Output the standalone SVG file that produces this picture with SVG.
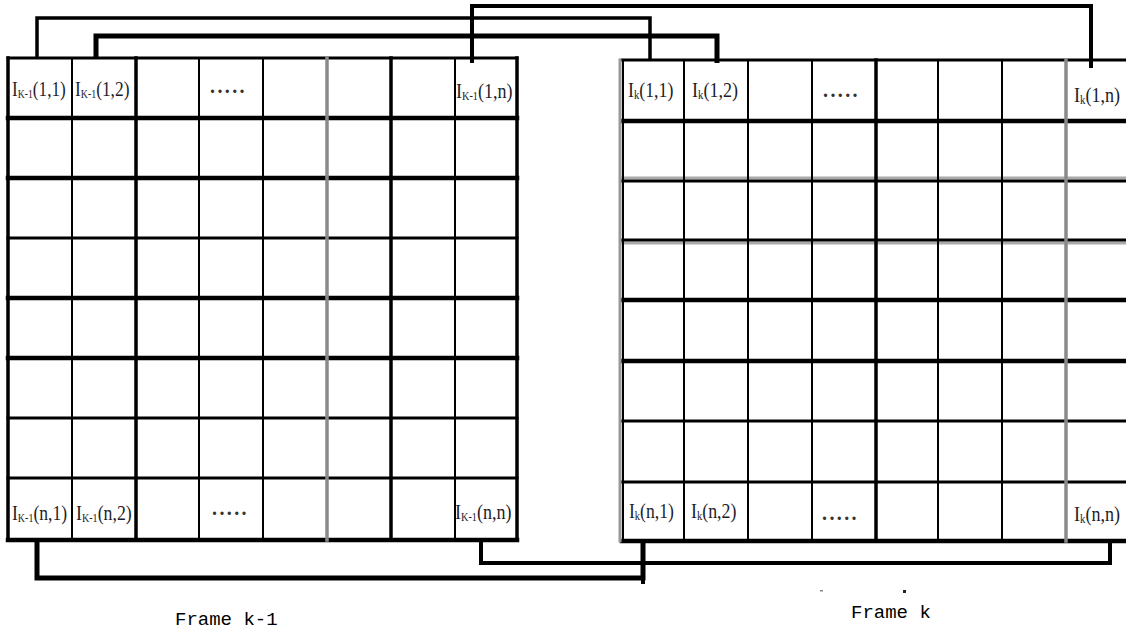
<svg xmlns="http://www.w3.org/2000/svg" width="1126" height="630" viewBox="0 0 1126 630">
<style>
.cellbg{fill:#fff;stroke:none}
.g{stroke:#000;stroke-linecap:square;fill:none}
.h{stroke-width:3}
.hb{stroke-width:4.5}
.v{stroke-width:2}
.vb{stroke-width:3.5}
.gray{stroke:#8a8a8a}
.lbl{font-family:"Liberation Serif","Times New Roman",serif;font-size:22px;fill:#1c1c28}
.lblk{font-family:"Liberation Serif","Times New Roman",serif;font-size:21px;fill:#1c1c28}
.sub{font-size:12.5px}
.dots{font-family:"Liberation Serif",serif;font-weight:bold;font-size:20px;fill:#333;letter-spacing:2.4px}
.conn{stroke:#000;fill:none;stroke-linejoin:miter;stroke-linecap:butt}
.cap{font-family:"Liberation Mono","Courier New",monospace;font-size:19px;fill:#000}
</style>
<rect width="1126" height="630" fill="#fff"/>

<g id="frame-k-1-grid">
<rect class="cellbg" x="8" y="58" width="509" height="482"/>
<g class="g">
<line class="h" x1="8" y1="58" x2="517" y2="58"/>
<line class="hb" x1="8" y1="118" x2="517" y2="118"/>
<line class="hb" x1="8" y1="178" x2="517" y2="178"/>
<line class="h" x1="8" y1="238" x2="517" y2="238"/>
<line class="hb" x1="8" y1="298" x2="517" y2="298"/>
<line class="hb" x1="8" y1="358" x2="517" y2="358"/>
<line class="h" x1="8" y1="418" x2="517" y2="418"/>
<line class="h" x1="8" y1="478" x2="517" y2="478"/>
<line class="hb" x1="8" y1="540" x2="517" y2="540"/>
<line class="vb" x1="8" y1="58" x2="8" y2="540"/>
<line class="v" x1="72" y1="58" x2="72" y2="540"/>
<line class="vb" x1="136" y1="58" x2="136" y2="540"/>
<line class="v" x1="199" y1="58" x2="199" y2="540"/>
<line class="v" x1="263" y1="58" x2="263" y2="540"/>
<line class="vb gray" x1="327" y1="58" x2="327" y2="540"/>
<line class="vb" x1="391" y1="58" x2="391" y2="540"/>
<line class="v" x1="455" y1="58" x2="455" y2="540"/>
<line class="vb" x1="517" y1="58" x2="517" y2="540"/>
</g>
</g>

<g id="frame-k-grid">
<rect class="cellbg" x="622" y="60" width="504" height="481"/>
<g class="g">
<line class="h" x1="622" y1="60" x2="1130" y2="60"/>
<line class="hb" x1="622" y1="121" x2="1130" y2="121"/>
<line stroke="#aaa" stroke-width="3" x1="622" y1="178" x2="1130" y2="178"/>
<line class="h" x1="622" y1="181" x2="1130" y2="181"/>
<line stroke="#aaa" stroke-width="3" x1="622" y1="243" x2="1130" y2="243"/>
<line class="h" x1="622" y1="240" x2="1130" y2="240"/>
<line class="hb" x1="622" y1="300" x2="1130" y2="300"/>
<line class="hb" x1="622" y1="361" x2="1130" y2="361"/>
<line class="h" x1="622" y1="421" x2="1130" y2="421"/>
<line class="h" x1="622" y1="482" x2="1130" y2="482"/>
<line class="hb" x1="622" y1="541" x2="1130" y2="541"/>
<line stroke="#999" stroke-width="3" x1="620" y1="60" x2="620" y2="541"/>
<line class="v" x1="623" y1="60" x2="623" y2="541"/>
<line class="v" x1="684" y1="60" x2="684" y2="541"/>
<line class="v" x1="748" y1="60" x2="748" y2="541"/>
<line class="v" x1="812" y1="60" x2="812" y2="541"/>
<line class="vb" x1="876" y1="60" x2="876" y2="541"/>
<line class="v" x1="938" y1="60" x2="938" y2="541"/>
<line class="v" x1="1002" y1="60" x2="1002" y2="541"/>
<line class="vb gray" x1="1066" y1="60" x2="1066" y2="541"/>
</g>
</g>

<g id="connectors">
<path class="conn" stroke-width="3.5" d="M37,58 V18 H650 V60"/>
<path class="conn" stroke-width="5" d="M96,58 V36 H717 V63"/>
<path class="conn" stroke-width="4" d="M472,63 V6 H1091 V68"/>
<path class="conn" stroke-width="5" d="M37,540 V578 H643 V541"/>
<path class="conn" stroke-width="4" d="M481,540 V563 H1110 V541"/>
<path class="conn" stroke-width="4" d="M643,578 V584"/>
</g>

<g id="cell-km1-1-1"><text class="lbl" transform="translate(12,96) scale(0.78,1)">I<tspan class="sub" dy="2">K-1</tspan><tspan dy="-2">(1,1)</tspan></text></g>
<g id="cell-km1-1-2"><text class="lbl" transform="translate(75,96) scale(0.79,1)">I<tspan class="sub" dy="2">K-1</tspan><tspan dy="-2">(1,2)</tspan></text></g>
<g id="cell-km1-1-dots"><text class="dots" x="210" y="93">.....</text></g>
<g id="cell-km1-1-n"><text class="lbl" transform="translate(456,98) scale(0.82,1)">I<tspan class="sub" dy="2">K-1</tspan><tspan dy="-2">(1,n)</tspan></text></g>

<g id="cell-km1-n-1"><text class="lbl" transform="translate(12,520) scale(0.8,1)">I<tspan class="sub" dy="2">K-1</tspan><tspan dy="-2">(n,1)</tspan></text></g>
<g id="cell-km1-n-2"><text class="lbl" transform="translate(76,520) scale(0.81,1)">I<tspan class="sub" dy="2">K-1</tspan><tspan dy="-2">(n,2)</tspan></text></g>
<g id="cell-km1-n-dots"><text class="dots" x="212" y="515" fill="#555">.....</text></g>
<g id="cell-km1-n-n"><text class="lbl" transform="translate(455,519) scale(0.82,1)">I<tspan class="sub" dy="2">K-1</tspan><tspan dy="-2">(n,n)</tspan></text></g>

<g id="cell-k-1-1"><text class="lblk" transform="translate(628,97) scale(0.85,1)">I<tspan class="sub" dy="2">k</tspan><tspan dy="-2">(1,1)</tspan></text></g>
<g id="cell-k-1-2"><text class="lblk" transform="translate(692,97) scale(0.86,1)">I<tspan class="sub" dy="2">k</tspan><tspan dy="-2">(1,2)</tspan></text></g>
<g id="cell-k-1-dots"><text class="dots" x="823" y="97">.....</text></g>
<g id="cell-k-1-n"><text class="lblk" transform="translate(1074,102) scale(0.86,1)">I<tspan class="sub" dy="2">k</tspan><tspan dy="-2">(1,n)</tspan></text></g>

<g id="cell-k-n-1"><text class="lblk" transform="translate(629,518) scale(0.84,1)">I<tspan class="sub" dy="2">k</tspan><tspan dy="-2">(n,1)</tspan></text></g>
<g id="cell-k-n-2"><text class="lblk" transform="translate(691,518) scale(0.85,1)">I<tspan class="sub" dy="2">k</tspan><tspan dy="-2">(n,2)</tspan></text></g>
<g id="cell-k-n-dots"><text class="dots" x="822" y="520" fill="#555">.....</text></g>
<g id="cell-k-n-n"><text class="lblk" transform="translate(1074,521) scale(0.86,1)">I<tspan class="sub" dy="2">k</tspan><tspan dy="-2">(n,n)</tspan></text></g>

<g id="caption-k-1"><text class="cap" x="175" y="625">Frame k-1</text></g>
<g id="caption-k"><text class="cap" x="851" y="618">Frame k</text></g>
<rect x="903" y="590" width="3" height="3" fill="#222"/>
<rect x="820" y="590" width="3" height="1.5" fill="#888"/>
</svg>
